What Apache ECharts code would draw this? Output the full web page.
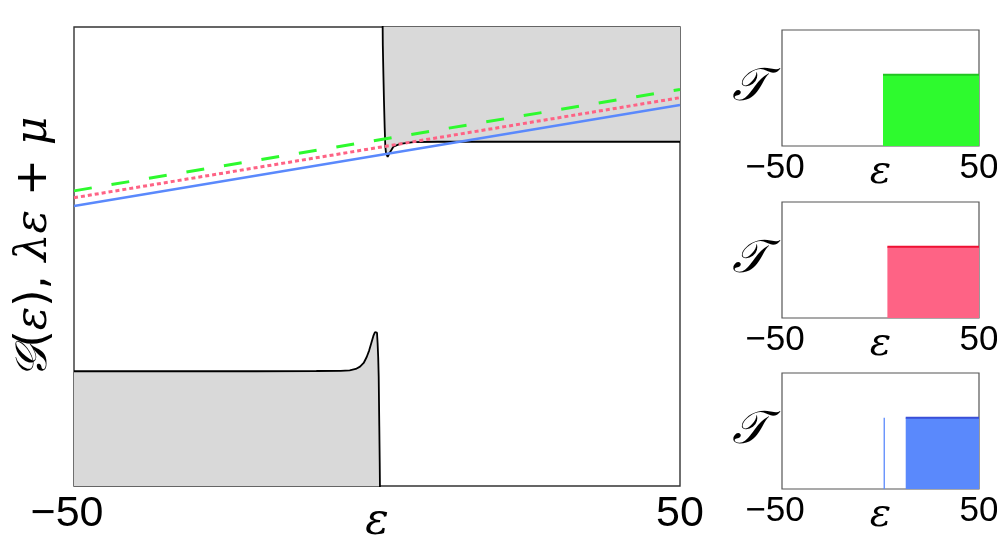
<!DOCTYPE html>
<html><head><meta charset="utf-8">
<script src="https://cdn.jsdelivr.net/npm/echarts@6/dist/echarts.min.js"></script>
<style>html,body{margin:0;padding:0;background:#fff}#c{width:997px;height:555px}</style>
</head><body><div id="c"></div>
<script>
// ---- data ----
const epsTicks = [-50, 50];
// G(eps) left branch (eps, G)
const gLeft = [[-50,-25],[-20,-25],[-10,-24.95],[-6,-24.9],[-4.5,-24.8],[-3.5,-24.5],[-2.8,-24.0],[-2.2,-23.2],[-1.7,-21.9],[-1.3,-20.5],[-0.9,-18.7],[-0.6,-17.3],[-0.35,-16.5],[-0.17,-16.2],[0.0,-16.6],[0.1,-18.9],[0.2,-22.0],[0.28,-26.2],[0.38,-37.0],[0.45,-45.0],[0.52,-55.0]];
// G(eps) right branch
const gRight = [[0.9,55],[0.96,46],[1.05,40],[1.15,34],[1.27,28],[1.37,24.0],[1.5,22.4],[1.76,21.7],[2.1,22.6],[2.7,23.9],[3.8,24.55],[6,24.9],[10,25.0],[50,25.0]];
// lambda*eps + mu lines (values at eps = -50 and 50)
const lineBlue = [[-50,11.0],[50,33.0]];
const lineRed = [[-50,12.8],[50,34.6]];
const lineGreen = [[-50,14.3],[50,36.4]];
// transmission T(eps)
const tGreen = [[-50,0],[1.27,0],[1.27,1],[50,1]];
const tRed = [[-50,0],[3.5,0],[3.5,1],[50,1]];
const tBlue = [[-50,0],[12.8,0],[12.8,1],[50,1]];
const tBlueSpike = [[1.9,0],[1.9,1]];

const cGreen = '#2efa2e', cRed = '#fe6385', cBlue = '#5a89fc';
const frame = '#333';

const chart = echarts.init(document.getElementById('c'));
const smallTops = [30, 202, 373];
const gridBase = {containLabel:false, outerBoundsMode:'none', show:true, backgroundColor:'#fff'};
const grids = [Object.assign({left:74, top:27, width:606, height:459, borderColor:frame, borderWidth:1.4}, gridBase)];
smallTops.forEach(t => grids.push(Object.assign({left:782, top:t, width:197, height:116, borderColor:'#555', borderWidth:1.2}, gridBase)));

const tickFmt = v => (v < 0 ? '{m|\u2212' + Math.abs(v) + '}' : '{p|' + v + '}');
function xAx(i, fs, margin, nameFs, nameGap, pad){
  return {type:'value', gridIndex:i, min:-50, max:50, interval:100,
    axisLine:{show:false}, axisTick:{show:false}, splitLine:{show:false},
    axisLabel:{margin:margin, formatter:tickFmt, hideOverlap:false,
      rich:{m:{fontSize:fs, fontFamily:'Liberation Sans', color:'#000', padding:[0,pad,0,0]},
            p:{fontSize:fs, fontFamily:'Liberation Sans', color:'#000'}}},
    name:'ε', nameLocation:'middle', nameGap:nameGap, nameMoveOverlap:false,
    nameTextStyle:{fontSize:nameFs, fontFamily:'DejaVu Serif', fontStyle:'italic', color:'#000'}};
}
const xAxes = [xAx(0, 43, 7, 44, 15, 14)];
for (let i=1;i<=3;i++) xAxes.push(xAx(i, 35, 5, 40, 7, 14));

const yAxes = [{type:'value', gridIndex:0, min:-50, max:50, axisLine:{show:false}, axisTick:{show:false}, axisLabel:{show:false}, splitLine:{show:false},
  name:'{s|𝒢}{n|(}{i|ε}{n|), }{i|λε}{n| + }{i|μ}', nameLocation:'middle', nameGap:17, nameRotate:90, nameMoveOverlap:false,
  nameTextStyle:{rich:{s:{fontSize:44, fontFamily:'DejaVu Serif', fontStyle:'italic', color:'#000', padding:[0,0,0,18]},
    n:{fontSize:44, fontFamily:'DejaVu Sans', color:'#000'},
    i:{fontSize:44, fontFamily:'DejaVu Serif', fontStyle:'italic', color:'#000'}}}}];
for (let i=1;i<=3;i++) yAxes.push({type:'value', gridIndex:i, min:0, max:1.63, axisLine:{show:false}, axisTick:{show:false}, axisLabel:{show:false}, splitLine:{show:false},
  name:'𝒯', nameLocation:'middle', nameRotate:0, nameGap:15, nameMoveOverlap:false,
  nameTextStyle:{fontSize:46, fontFamily:'DejaVu Serif', fontStyle:'italic', color:'#000'}});

function ln(data, color, width, type, xi, extra){
  return Object.assign({type:'line', data:data, xAxisIndex:xi, yAxisIndex:xi, showSymbol:false, symbol:'none', animation:false,
    lineStyle:{color:color, width:width, type:type}}, extra||{});
}
const series = [
  ln(gLeft, '#000', 1.8, 'solid', 0, {areaStyle:{color:'#d9d9d9', opacity:1, origin:'start'}, z:2}),
  ln(gRight, '#000', 1.8, 'solid', 0, {areaStyle:{color:'#d9d9d9', opacity:1, origin:'end'}, z:2}),
  ln(lineBlue, cBlue, 2.6, 'solid', 0, {z:3}),
  ln(lineRed, cRed, 3, [4,3], 0, {z:3}),
  ln(lineGreen, cGreen, 3, [18,20], 0, {z:3}),
  ln(tGreen, cGreen, 0, 'solid', 1, {areaStyle:{color:cGreen, opacity:1, origin:'start'}}),
  ln(tGreen.slice(2), '#22c422', 2, 'solid', 1),
  ln(tRed, cRed, 0, 'solid', 2, {areaStyle:{color:cRed, opacity:1, origin:'start'}}),
  ln(tRed.slice(2), '#ee1133', 2, 'solid', 2),
  ln(tBlue, cBlue, 0, 'solid', 3, {areaStyle:{color:cBlue, opacity:1, origin:'start'}}),
  ln(tBlue.slice(2), '#3a4fd8', 2, 'solid', 3),
  ln(tBlueSpike, cBlue, 1.3, 'solid', 3)
];
chart.setOption({animation:false, grid:grids, xAxis:xAxes, yAxis:yAxes, series:series});
</script></body></html>
